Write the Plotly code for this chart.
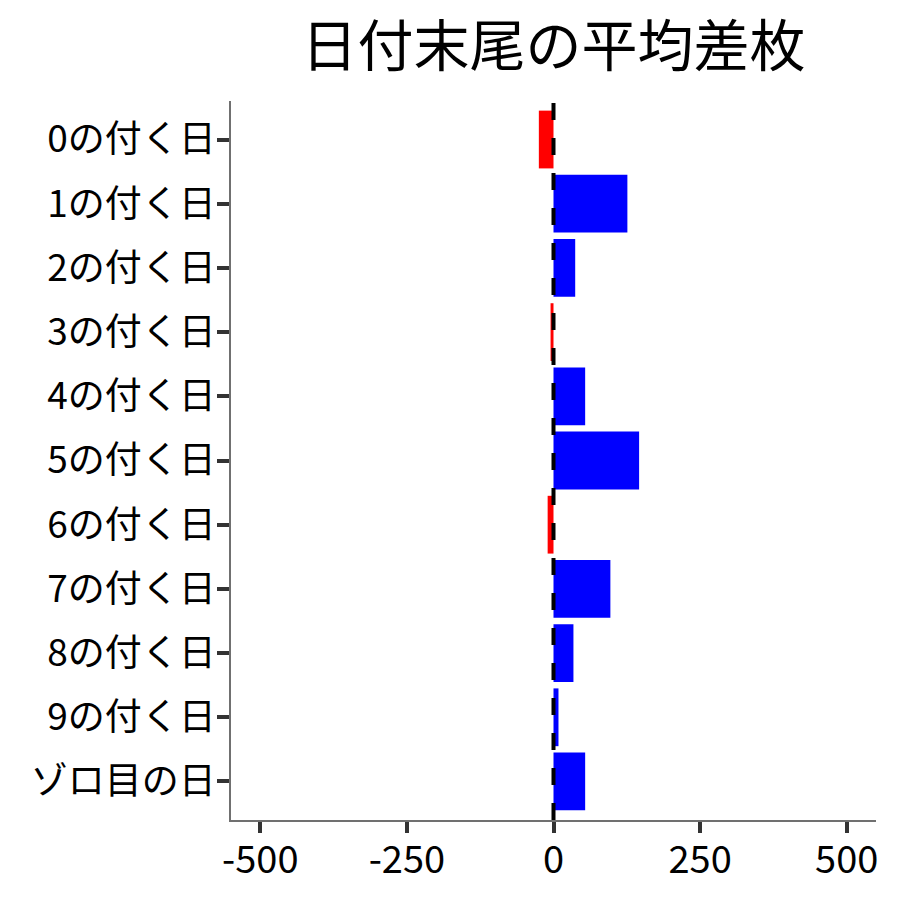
"""
Average difference in medals by last digit of the date, as a horizontal bar chart.
"""

import plotly.graph_objects as go

FONT = "Noto Sans CJK JP"

categories = ["0の付く日", "1の付く日", "2の付く日", "3の付く日", "4の付く日",
              "5の付く日", "6の付く日", "7の付く日", "8の付く日", "9の付く日",
              "ゾロ目の日"]
avg_diff = [-25, 126, 37, -5, 54, 146, -10, 97, 34, 8.5, 54]
x_ticks = [-500, -250, 0, 250, 500]

colors = ['#0000FF' if v >= 0 else '#FF0000' for v in avg_diff]

fig = go.Figure()
fig.add_trace(
    go.Bar(
        x=avg_diff,
        y=categories,
        orientation='h',
        marker=dict(color=colors, line=dict(width=0)),
        width=0.9,
        showlegend=False
    )
)

# Dashed reference line at zero.
fig.add_vline(x=0, line=dict(color='black', width=4, dash='17px,18px'))

fig.update_layout(
    title=dict(text="日付末尾の平均差枚", x=0.5, xref='paper', xanchor='center',
               y=0.957, yanchor='middle',
               font=dict(family=FONT, size=56, color='black')),
    width=900, height=900,
    margin=dict(l=223, r=32, t=93, b=88),
    plot_bgcolor='white',
    paper_bgcolor='white',
    font=dict(family=FONT, color='black'),
)
fig.update_xaxes(
    range=[-550, 550],
    tickvals=x_ticks,
    ticktext=[str(v) for v in x_ticks],
    showgrid=False, zeroline=False,
    showline=True, linecolor='#707070', linewidth=1.5,
    ticks='outside', ticklen=11, tickwidth=4, tickcolor='#333333',
    ticklabelstandoff=-5,
    tickfont=dict(family=FONT, size=38, color='black')
)
fig.update_yaxes(
    categoryorder='array',
    categoryarray=categories,
    range=[10.6, -0.6],
    showgrid=False, zeroline=False,
    showline=True, linecolor='#707070', linewidth=1.5,
    ticks='outside', ticklen=12, tickwidth=4, tickcolor='#333333',
    ticklabelstandoff=-6,
    tickfont=dict(family=FONT, size=37, color='black')
)

fig.write_html("out.html")
